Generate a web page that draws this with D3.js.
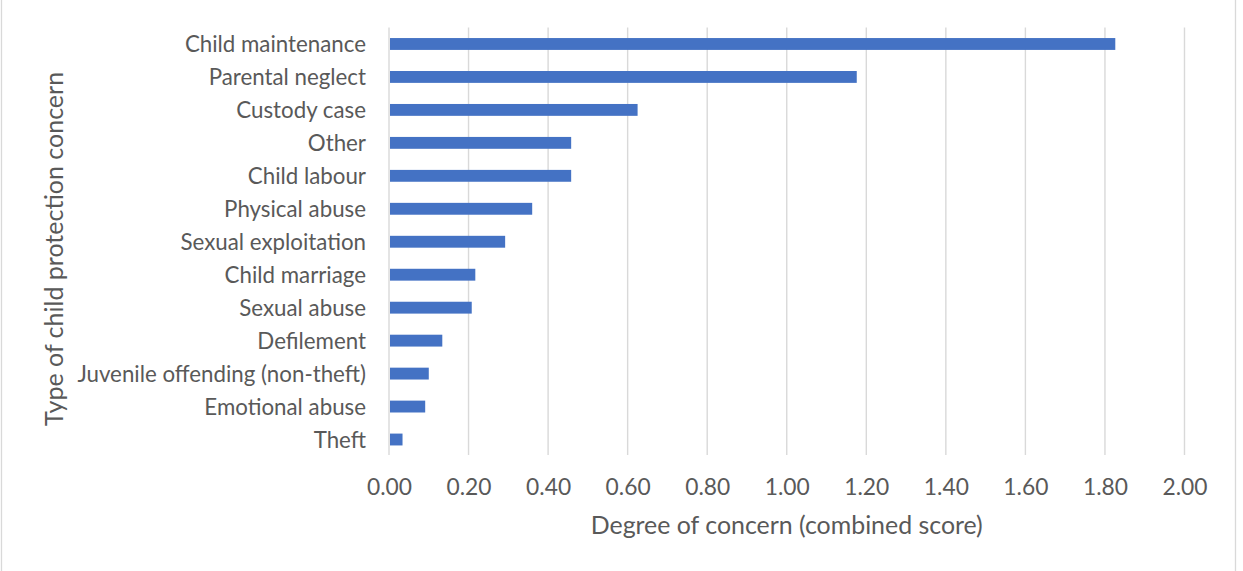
<!DOCTYPE html>
<html>
<head>
<meta charset="utf-8">
<script src="https://cdn.jsdelivr.net/npm/d3@7"></script>
<style>
  html, body { margin: 0; padding: 0; background: #ffffff; }
  svg { display: block; }
  text { font-family: Lato, "Open Sans", sans-serif; fill: #595959; }
</style>
</head>
<body>
<svg id="chart" width="1243" height="571"></svg>
<script>
// Child protection concerns, ranked by combined score
const categories = [
  "Child maintenance",
  "Parental neglect",
  "Custody case",
  "Other",
  "Child labour",
  "Physical abuse",
  "Sexual exploitation",
  "Child marriage",
  "Sexual abuse",
  "Defilement",
  "Juvenile offending (non-theft)",
  "Emotional abuse",
  "Theft"
];
const scores = [1.826, 1.176, 0.625, 0.458, 0.458, 0.360, 0.292, 0.217, 0.208, 0.134, 0.100, 0.091, 0.034];
const xTicks = [0, 0.2, 0.4, 0.6, 0.8, 1.0, 1.2, 1.4, 1.6, 1.8, 2.0];
const xTitle = "Degree of concern (combined score)";
const yTitle = "Type of child protection concern";

const W = 1243, H = 571;
const plot = { left: 389, right: 1184.5, top: 27.5, bottom: 456 };
const fontFamily = "Lato, 'Open Sans', sans-serif";

const svg = d3.select("#chart");

// outer frame (left and right edges)
svg.append("line").attr("x1", 1.5).attr("x2", 1.5).attr("y1", 0).attr("y2", H)
  .attr("stroke", "#d9d9d9").attr("stroke-width", 1.3);
svg.append("line").attr("x1", 1235.5).attr("x2", 1235.5).attr("y1", 0).attr("y2", H)
  .attr("stroke", "#d9d9d9").attr("stroke-width", 1.3);

const x = d3.scaleLinear().domain([0, 2]).range([plot.left, plot.right]);
const y = d3.scaleBand().domain(categories).range([plot.top, plot.bottom]).paddingInner(0.64).paddingOuter(0.32);

// vertical gridlines
svg.append("g").selectAll("line").data(xTicks).join("line")
  .attr("x1", d => x(d)).attr("x2", d => x(d))
  .attr("y1", plot.top).attr("y2", plot.bottom - 1)
  .attr("stroke", "#d9d9d9").attr("stroke-width", 1.4);

// bars
svg.append("g").selectAll("rect").data(categories).join("rect")
  .attr("x", x(0) + 1)
  .attr("y", d => y(d))
  .attr("width", (d, i) => x(scores[i]) - x(0) - 1)
  .attr("height", y.bandwidth())
  .attr("fill", "#4472c4");

// x tick labels
const xAxis = d3.axisBottom(x).tickValues(xTicks).tickFormat(d3.format(".2f")).tickSize(0).tickPadding(0);
const gx = svg.append("g").attr("transform", `translate(0, 495)`).call(xAxis);
gx.select(".domain").remove();
gx.selectAll("text").attr("dy", 0).attr("font-size", 22.8).attr("fill", "#595959")
  .style("font-family", fontFamily);

// category labels
const yAxis = d3.axisLeft(y).tickSize(0).tickPadding(0);
const gy = svg.append("g").attr("transform", `translate(366, 0)`).call(yAxis);
gy.select(".domain").remove();
gy.selectAll("text").attr("dy", "0.36em").attr("font-size", 22.3).attr("fill", "#595959")
  .style("font-family", fontFamily);

// axis titles
svg.append("text")
  .attr("x", (plot.left + plot.right) / 2).attr("y", 534)
  .attr("text-anchor", "middle").attr("font-size", 24.9)
  .text(xTitle);

svg.append("text")
  .attr("transform", `translate(63, 249) rotate(-90)`)
  .attr("text-anchor", "middle").attr("font-size", 25)
  .text(yTitle);
</script>
</body>
</html>
